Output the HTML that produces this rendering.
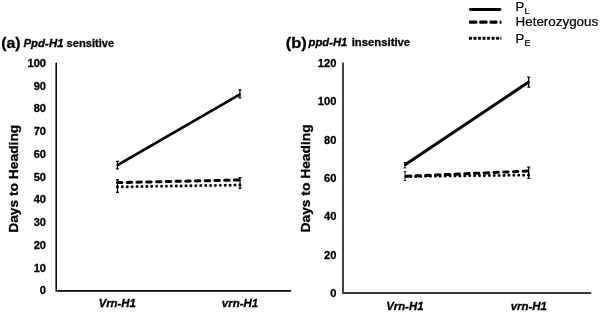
<!DOCTYPE html>
<html>
<head>
<meta charset="utf-8">
<title>Days to Heading</title>
<style>
html,body{margin:0;padding:0;background:#fff;}
body{width:600px;height:312px;overflow:hidden;}
svg{display:block;}
text{font-family:"Liberation Sans",Arial,Helvetica,sans-serif;fill:#000;}
.b{font-weight:bold;stroke:#000;stroke-width:0.3;}
.bi{font-weight:bold;font-style:italic;stroke:#000;stroke-width:0.3;}
.n{font-weight:normal;stroke:#000;stroke-width:0.2;}
.axa{stroke:#0a0a0a;stroke-width:1.6;fill:none;stroke-linejoin:round;stroke-linecap:round;}
.axb{stroke:#3a3a3a;stroke-width:1.9;fill:none;stroke-linejoin:round;stroke-linecap:round;}
.eb{stroke:#000;stroke-width:1.25;fill:none;}
.sl{stroke:#000;stroke-width:2.8;fill:none;stroke-linecap:round;}
.da{stroke:#000;stroke-width:3.0;fill:none;stroke-linecap:round;stroke-dasharray:4.5 5.25;}
.do{stroke:#000;stroke-width:3.0;fill:none;stroke-linecap:round;stroke-dasharray:0.01 4.89;}
</style>
</head>
<body>
<svg width="600" height="312" viewBox="0 0 600 312">
<rect x="0" y="0" width="600" height="312" fill="#fff"/>

<!-- panel a -->
<text class="b" font-size="15.5" transform="translate(1.25,47.50) scale(1.0194,1.0000)">(a)</text>
<text class="bi" font-size="11" transform="translate(23.47,47.10) scale(1.0422,1.0000)">Ppd-H1</text>
<text class="b" font-size="11" transform="translate(66.62,47.10) scale(1.0125,1.0000)">sensitive</text>
<text class="b" font-size="13.4" transform="translate(17.80,232.83) rotate(-90) scale(1.0308,1.0000)">Days to Heading</text>
<text class="b" font-size="10.8" text-anchor="end" transform="translate(46.00,66.75) scale(1.03,1)">100</text>
<text class="b" font-size="10.8" text-anchor="end" transform="translate(46.00,89.52) scale(1.03,1)">90</text>
<text class="b" font-size="10.8" text-anchor="end" transform="translate(46.00,112.29) scale(1.03,1)">80</text>
<text class="b" font-size="10.8" text-anchor="end" transform="translate(46.00,135.06) scale(1.03,1)">70</text>
<text class="b" font-size="10.8" text-anchor="end" transform="translate(46.00,157.83) scale(1.03,1)">60</text>
<text class="b" font-size="10.8" text-anchor="end" transform="translate(46.00,180.60) scale(1.03,1)">50</text>
<text class="b" font-size="10.8" text-anchor="end" transform="translate(46.00,203.37) scale(1.03,1)">40</text>
<text class="b" font-size="10.8" text-anchor="end" transform="translate(46.00,226.14) scale(1.03,1)">30</text>
<text class="b" font-size="10.8" text-anchor="end" transform="translate(46.00,248.91) scale(1.03,1)">20</text>
<text class="b" font-size="10.8" text-anchor="end" transform="translate(46.00,271.68) scale(1.03,1)">10</text>
<text class="b" font-size="10.8" text-anchor="end" transform="translate(46.00,294.45) scale(1.03,1)">0</text>
<path class="axa" d="M56.2 63.2V290.9H290.5"/>
<text class="bi" font-size="11" transform="translate(98.75,307.30) scale(1.0371,1.0000)">Vrn-H1</text>
<text class="bi" font-size="11" transform="translate(221.78,307.30) scale(1.0466,1.0000)">vrn-H1</text>
<!-- series a -->
<path class="eb" d="M117.4 161.4V168.8M115.95 161.4h2.9M115.95 168.8h2.9"/>
<path class="eb" d="M239.9 89.9V97.8M238.45 89.9h2.9M238.45 97.8h2.9"/>
<path class="eb" d="M117.5 179.6V192.4M116.05 179.6h2.9M116.05 192.4h2.9"/>
<path class="eb" d="M240 177.5V188.3M238.55 177.5h2.9M238.55 188.3h2.9"/>
<path class="sl" d="M117.92 164.90L239.48 94.60"/>
<path class="da" d="M117.4 182.6L240 180"/>
<path class="do" d="M117.4 186.9L240 185"/>
<!-- panel b -->
<text class="b" font-size="15.5" transform="translate(285.71,47.60) scale(1.0615,1.0000)">(b)</text>
<text class="bi" font-size="11" transform="translate(308.55,45.60) scale(1.0244,1.0000)">ppd-H1</text>
<text class="b" font-size="11" transform="translate(351.66,45.60) scale(1.0291,1.0000)">insensitive</text>
<text class="b" font-size="13.7" transform="translate(309.80,232.51) rotate(-90) scale(1.0075,1.0000)">Days to Heading</text>
<text class="b" font-size="10.8" text-anchor="end" transform="translate(336.40,66.75) scale(1.03,1)">120</text>
<text class="b" font-size="10.8" text-anchor="end" transform="translate(336.40,105.15) scale(1.03,1)">100</text>
<text class="b" font-size="10.8" text-anchor="end" transform="translate(336.40,143.55) scale(1.03,1)">80</text>
<text class="b" font-size="10.8" text-anchor="end" transform="translate(336.40,181.95) scale(1.03,1)">60</text>
<text class="b" font-size="10.8" text-anchor="end" transform="translate(336.40,220.35) scale(1.03,1)">40</text>
<text class="b" font-size="10.8" text-anchor="end" transform="translate(336.40,258.75) scale(1.03,1)">20</text>
<text class="b" font-size="10.8" text-anchor="end" transform="translate(336.40,297.15) scale(1.03,1)">0</text>
<path class="axb" d="M343 63.2V293.0H590.5"/>
<text class="bi" font-size="11" transform="translate(386.34,309.80) scale(1.0372,1.0000)">Vrn-H1</text>
<text class="bi" font-size="11" transform="translate(510.63,309.80) scale(1.0449,1.0000)">vrn-H1</text>
<path class="eb" d="M405 162.7V167.9M403.70 162.7h2.6M403.70 167.9h2.6" style="stroke-width:1.0"/>
<path class="eb" d="M405 171.7V180.5M403.80 171.7h2.4M403.80 180.5h2.4" style="stroke-width:0.9"/>
<path class="eb" d="M528.7 77V87M527.25 77h2.9M527.25 87h2.9"/>
<path class="eb" d="M528.7 167.2V178.3M527.25 167.2h2.9M527.25 178.3h2.9"/>
<path class="sl" style="stroke-width:3.05" d="M405.50 164.47L528.20 82.33"/>
<path class="da" stroke-dashoffset="-1.2" d="M405 176.3L528.7 171"/>
<path class="do" stroke-dashoffset="-1.0" d="M405 176.6L528.7 175.1"/>
<!-- legend -->
<rect x="468.90" y="8.00" width="32.50" height="3.0" rx="1.4" fill="#000"/>
<rect x="468.90" y="20.60" width="8.50" height="3.2" rx="1.3" fill="#000"/>
<rect x="479.20" y="20.60" width="8.40" height="3.2" rx="1.3" fill="#000"/>
<rect x="489.40" y="20.60" width="8.20" height="3.2" rx="1.3" fill="#000"/>
<rect x="499.60" y="20.60" width="1.80" height="3.2" rx="0.4" fill="#000"/>
<rect x="468.90" y="36.75" width="3.05" height="3.1" rx="0.9" fill="#000"/>
<rect x="473.43" y="36.75" width="3.05" height="3.1" rx="0.9" fill="#000"/>
<rect x="477.96" y="36.75" width="3.05" height="3.1" rx="0.9" fill="#000"/>
<rect x="482.49" y="36.75" width="3.05" height="3.1" rx="0.9" fill="#000"/>
<rect x="487.02" y="36.75" width="3.05" height="3.1" rx="0.9" fill="#000"/>
<rect x="491.55" y="36.75" width="3.05" height="3.1" rx="0.9" fill="#000"/>
<rect x="496.08" y="36.75" width="3.05" height="3.1" rx="0.9" fill="#000"/>
<rect x="500.40" y="36.75" width="1.00" height="3.1" rx="0.3" fill="#000"/>
<text class="n" font-size="12" transform="translate(515.50,11.00) scale(1.1000,1.0000)">P</text>
<text class="n" font-size="8.2" transform="translate(524.40,13.50) scale(1.1000,1.0000)">L</text>
<text class="n" font-size="12" transform="translate(515.53,25.90) scale(1.1177,1.0000)">Heterozygous</text>
<text class="n" font-size="12" transform="translate(515.50,42.60) scale(1.1000,1.0000)">P</text>
<text class="n" font-size="8.2" transform="translate(524.40,45.80) scale(1.1000,1.0000)">E</text>
</svg>
</body>
</html>
